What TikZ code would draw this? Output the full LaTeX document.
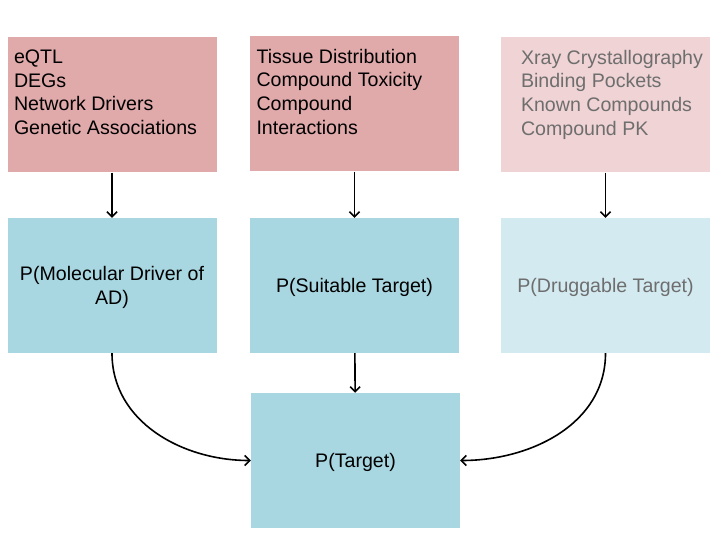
\documentclass[tikz,border=0pt]{standalone}
\usepackage{fontspec}
\setmainfont{Liberation Sans}
\usepackage{tikz}
\usetikzlibrary{arrows.meta,positioning}

\definecolor{rosebox}{HTML}{E0A9AA}
\definecolor{rosepale}{HTML}{F0D3D4}
\definecolor{tealbox}{HTML}{A8D7E2}
\definecolor{tealpale}{HTML}{D3EAF1}
\definecolor{fadetext}{HTML}{6E6E6E}

\begin{document}
\begin{tikzpicture}[x=1pt,y=-1pt,
  every node/.style={minimum width=209pt,minimum height=135pt,inner sep=0pt,font=\fontsize{19.6}{23.6}\selectfont},
  source/.style={fill=rosebox,align=left},
  score/.style={fill=tealbox,align=center,text depth=0pt},
  link/.style={-{Straight Barb[length=5pt,width=10pt]},line width=1.6pt}]
\useasboundingbox (0,0) rectangle (720,540);

\node[source] (gen) at (112,105) {\parbox[c][110pt][t]{196pt}{eQTL\\DEGs\\Network Drivers\\Genetic Associations}};
\node[source] (tox) at (354.5,104) {\parbox[c][110pt][t]{196pt}{Tissue Distribution\\Compound Toxicity\\Compound\\Interactions}};
\node[source,fill=rosepale,text=fadetext] (drug) at (605.5,105) {\parbox[c][110pt][t]{201pt}{\leftskip=16pt Xray Crystallography\\Binding Pockets\\Known Compounds\\Compound PK}};

\node[score] (mol) at (112,285.5) {P(Molecular Driver of\\AD)};
\node[score] (suit) at (354.5,285.5) {P(Suitable Target)};
\node[score,fill=tealpale,text=fadetext] (dg) at (605.5,285.5) {P(Druggable Target)};

\node[score] (target) at (355.5,460.5) {P(Target)};

\draw[link] (gen) -- (mol);
\draw[link] (tox) -- (suit);
\draw[link] (drug) -- (dg);
\draw[link] (suit) -- (target);
\draw[link] (mol.south) to[out=-90,in=180] (target.west);
\draw[link] (dg.south) to[out=-90,in=0] (target.east);

\end{tikzpicture}
\end{document}
